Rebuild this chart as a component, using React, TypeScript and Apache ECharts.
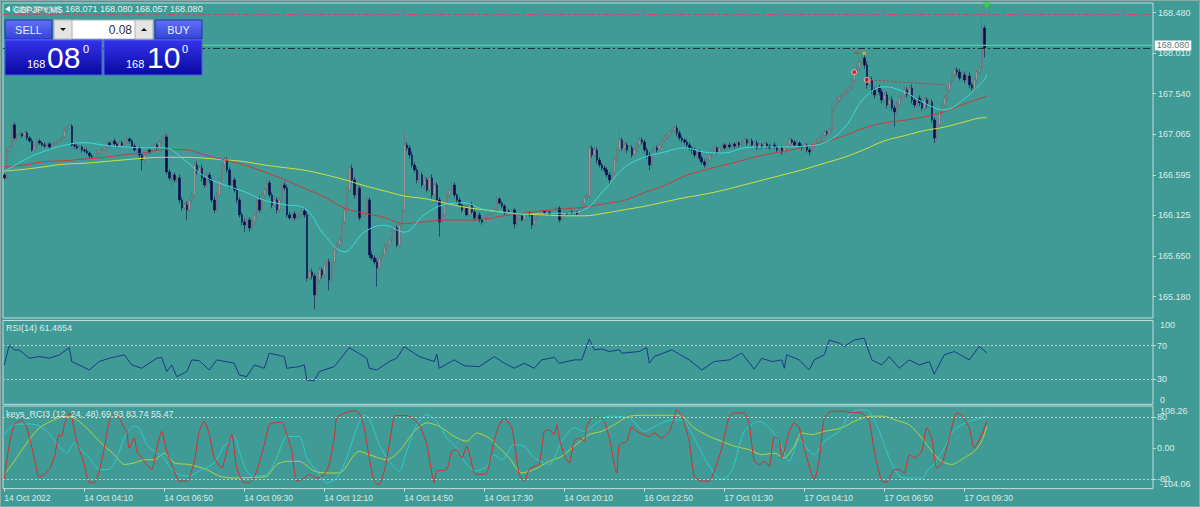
import React, { useEffect, useRef } from "react";
import * as echarts from "echarts";

// ---------- data ----------
const N = 394; // visible M5 bars
const SLOTS = 460; // bar slots across the window (incl. right shift)
const firstOpen = 166.595;

const closes = [
166.560,166.885,166.920,167.176,167.024,167.059,167.071,167.048,
167.083,167.024,166.990,166.885,166.931,166.990,166.966,166.943,
166.931,166.955,166.920,166.955,166.966,166.990,167.001,167.036,
167.106,167.141,167.164,166.943,166.931,166.908,166.920,166.885,
166.873,166.850,166.815,166.804,166.827,166.850,166.885,166.896,
166.920,166.966,166.943,166.990,166.955,166.931,166.966,166.943,
166.966,167.013,166.990,166.931,166.885,166.908,166.827,166.769,
166.827,166.885,166.862,166.908,166.943,166.908,166.978,167.024,
167.036,166.630,166.560,166.595,166.537,166.560,166.304,166.211,
166.246,166.188,166.304,166.362,166.711,166.630,166.676,166.560,
166.478,166.595,166.537,166.304,166.188,166.362,166.537,166.711,
166.769,166.653,166.478,166.537,166.420,166.304,166.130,166.048,
166.013,166.072,165.979,166.048,166.130,166.304,166.188,166.362,
166.420,166.502,166.362,166.246,166.304,166.188,166.304,166.478,
166.444,166.130,166.095,166.141,166.095,166.118,166.130,166.176,
166.130,165.397,165.467,165.420,165.200,165.374,165.490,165.432,
165.548,165.583,165.374,165.583,165.723,165.781,165.839,166.048,
166.188,166.420,166.676,166.537,166.362,166.444,166.095,166.130,
166.165,166.304,165.665,165.630,165.583,165.514,165.630,165.665,
165.746,165.781,165.839,165.955,165.979,165.781,166.013,166.188,
166.943,166.908,166.827,166.711,166.653,166.537,166.595,166.478,
166.537,166.420,166.560,166.362,166.478,166.304,166.048,166.130,
166.246,166.362,166.420,166.478,166.362,166.304,166.246,166.188,
166.211,166.130,166.246,166.165,166.095,166.130,166.072,166.048,
166.095,166.130,166.141,166.165,166.188,166.316,166.269,166.234,
166.153,166.176,166.165,166.188,166.025,166.095,166.118,166.072,
166.141,166.153,166.130,166.013,166.072,166.130,166.141,166.176,
166.153,166.165,166.141,166.165,166.199,166.211,166.072,166.118,
166.153,166.141,166.165,166.153,166.165,166.141,166.188,166.258,
166.327,166.350,166.908,166.827,166.885,166.769,166.711,166.676,
166.653,166.595,166.537,166.630,166.769,166.885,167.001,166.908,
166.943,166.885,166.908,166.827,166.885,166.943,167.001,166.978,
166.885,166.827,166.711,166.885,166.908,166.885,166.943,167.001,
167.024,167.059,167.094,167.117,167.141,167.083,167.024,167.001,
166.978,166.943,166.908,166.885,166.827,166.862,166.792,166.746,
166.711,166.769,166.827,166.885,166.908,166.862,166.908,166.943,
166.908,166.943,166.920,166.955,166.931,166.966,166.943,166.978,
167.001,166.966,166.990,166.943,166.966,166.908,166.943,166.920,
166.955,166.931,166.908,166.943,166.920,166.885,166.908,166.862,
166.908,166.943,167.001,166.978,166.943,166.966,166.931,166.908,
166.943,166.885,166.862,166.943,166.978,167.001,167.024,167.059,
167.094,167.083,167.117,167.350,167.408,167.466,167.501,167.524,
167.547,167.582,167.605,167.698,167.791,167.838,167.908,167.954,
167.873,167.640,167.698,167.582,167.524,167.605,167.559,167.466,
167.524,167.408,167.466,167.373,167.327,167.408,167.489,167.524,
167.582,167.524,167.605,167.466,167.408,167.489,167.431,167.373,
167.466,167.408,167.443,167.234,167.024,167.176,167.327,167.408,
167.489,167.582,167.675,167.757,167.815,167.791,167.722,167.757,
167.698,167.745,167.640,167.605,167.698,167.791,167.838,168.303,
168.071,168.080
];

// wick lengths in hundredths of a yen
const upWick = [
2,3,2,2,3,2,2,2,3,2,2,3,2,2,2,2,3,2,2,2,
2,2,3,2,3,2,3,2,2,3,2,2,2,3,2,2,2,3,2,2,
2,3,2,2,3,2,2,3,2,4,2,2,3,2,2,2,3,2,2,3,
2,2,3,3,5,3,3,2,3,2,4,3,3,4,3,4,3,4,3,4,
3,4,3,3,4,3,4,3,4,3,3,4,3,4,3,3,4,3,3,4,
4,3,4,3,3,4,3,3,4,3,3,4,3,3,3,2,3,2,3,3,
3,4,3,4,3,4,4,3,4,3,4,3,4,3,4,3,4,4,3,4,
3,4,3,4,3,4,3,4,3,4,3,3,4,3,3,4,3,3,4,3,
17,3,3,4,3,3,4,3,4,3,3,4,3,3,3,3,3,4,3,3,
3,2,3,2,3,2,2,3,2,2,3,2,2,2,3,2,2,3,2,2,
2,2,2,1,2,2,2,1,2,2,2,2,1,2,2,2,1,2,2,2,
2,1,2,2,2,1,2,2,2,1,2,2,3,2,3,3,4,3,3,3,
3,3,3,4,3,3,12,3,3,3,4,3,3,3,4,3,3,3,4,3,
3,3,3,3,4,3,3,4,3,3,3,3,2,3,3,2,3,3,3,3,
3,2,3,2,3,2,2,3,2,2,3,2,2,3,2,2,3,2,2,3,
2,3,2,2,3,2,2,2,3,2,2,3,2,2,3,2,2,3,2,2,
3,2,2,3,2,2,3,2,3,2,3,4,3,4,3,3,4,3,4,3,
4,3,4,6,4,4,4,4,3,4,4,3,4,4,3,4,3,4,4,3,
4,3,4,4,3,4,3,4,4,3,4,3,3,4,3,4,3,4,3,4,
4,3,4,3,4,3,4,3,4,3,4,12,3,0
];
const dnWick = [
2,2,3,2,2,3,2,2,2,3,2,2,2,3,2,2,2,2,3,2,
2,3,2,2,2,3,2,2,3,2,2,3,2,2,3,2,2,2,3,2,
3,2,2,3,2,2,3,2,2,2,3,2,2,3,3,12,3,2,2,3,
2,3,2,2,2,3,3,12,3,3,4,3,3,12,3,3,4,3,3,4,
3,3,4,3,4,3,3,4,3,3,4,3,3,4,3,4,8,3,4,3,
3,4,3,3,4,3,3,4,3,4,3,3,3,3,2,3,3,2,3,3,
3,4,3,4,17,3,4,4,3,3,12,3,3,4,3,3,4,3,3,3,
4,3,3,4,3,3,4,3,3,22,3,4,3,4,3,3,4,3,4,3,
3,3,4,3,3,4,3,3,4,3,3,4,3,3,17,3,3,3,3,3,
3,3,2,3,3,2,3,2,3,2,3,3,2,3,2,2,3,2,2,3,
2,2,2,2,5,2,2,2,2,2,2,4,2,2,2,2,2,2,2,2,
2,2,3,2,2,2,2,2,2,2,3,2,2,2,3,3,3,4,3,3,
3,3,6,3,3,3,3,3,3,4,3,3,3,3,3,3,3,4,6,3,
3,3,3,3,3,3,3,3,3,4,3,3,3,3,3,4,3,3,3,3,
3,3,3,2,3,3,2,3,2,3,2,2,3,2,3,2,2,3,2,2,
3,2,3,2,2,3,2,2,2,3,2,3,2,2,3,2,2,3,2,3,
2,3,4,2,3,2,2,3,2,3,3,3,4,3,3,4,3,3,4,3,
4,3,4,3,4,4,3,4,4,3,4,4,3,4,4,3,17,4,3,4,
4,3,4,4,3,4,4,3,4,4,3,3,6,4,3,4,3,4,3,4,
3,4,3,4,4,3,4,3,4,3,4,4,11,1
];

// moving averages [bar index, price]
const maFast = [
[0,166.63],[8,166.77],[16,166.87],[24,166.94],[32,166.97],[40,166.94],[48,166.92],[56,166.91],
[64,166.91],[72,166.77],[80,166.58],[88,166.48],[96,166.40],[104,166.30],[112,166.25],[120,166.21],
[128,165.90],[136,165.70],[144,165.93],[152,166.01],[160,165.93],[168,166.13],[176,166.25],[184,166.27],
[192,166.19],[200,166.16],[208,166.14],[216,166.15],[224,166.15],[232,166.19],[240,166.42],[248,166.68],
[256,166.80],[264,166.86],[272,166.91],[280,166.86],[288,166.85],[296,166.91],[304,166.92],[312,166.92],
[320,166.93],[328,166.97],[336,167.14],[344,167.49],[352,167.62],[360,167.56],[368,167.43],[376,167.35],
[384,167.48],[392,167.70],[393,167.76]
];
const maMid = [
[0,166.69],[8,166.71],[16,166.75],[24,166.76],[32,166.78],[40,166.80],[48,166.83],[56,166.85],
[64,166.89],[72,166.89],[80,166.83],[88,166.77],[96,166.71],[104,166.63],[112,166.54],[120,166.44],
[128,166.34],[136,166.21],[144,166.15],[152,166.10],[160,166.03],[168,166.05],[176,166.07],[184,166.07],
[192,166.08],[200,166.12],[208,166.15],[216,166.18],[224,166.20],[232,166.22],[240,166.26],[248,166.30],
[256,166.39],[264,166.47],[272,166.58],[280,166.65],[288,166.71],[296,166.77],[304,166.83],[312,166.87],
[320,166.92],[328,166.98],[336,167.05],[344,167.14],[352,167.20],[360,167.23],[368,167.27],[376,167.33],
[384,167.42],[392,167.50],[393,167.51]
];
const maSlow = [
[0,166.64],[8,166.66],[16,166.69],[24,166.72],[32,166.73],[40,166.75],[48,166.77],[56,166.79],
[64,166.80],[72,166.80],[80,166.79],[88,166.77],[96,166.75],[104,166.71],[112,166.68],[120,166.65],
[128,166.60],[136,166.54],[144,166.47],[152,166.41],[160,166.35],[168,166.32],[176,166.27],[184,166.22],
[192,166.19],[200,166.16],[208,166.14],[216,166.13],[224,166.12],[232,166.12],[240,166.15],[248,166.19],
[256,166.23],[264,166.28],[272,166.33],[280,166.37],[288,166.42],[296,166.48],[304,166.54],[312,166.60],
[320,166.66],[328,166.73],[336,166.80],[344,166.89],[352,166.99],[360,167.05],[368,167.11],[376,167.15],
[384,167.21],[392,167.26],[393,167.26]
];

// RSI(14) [bar index, value]
const rsi = [
[0,47],[2,70.7],[4,64.8],[6,64.8],[10,55],[14,57],[18,55],[22,58.9],[26,67.7],[27,51],
[34,41],[38,51],[42,55],[45,57],[48,59],[51,47],[55,43],[61,55],[63,56],[65,39],
[67,47],[69,33],[73,39],[75,53],[78,52],[82,41],[85,53],[92,49],[94,35],[97,33],
[100,47],[104,43],[106,61],[112,57],[113,43],[118,45],[120,47],[121,29],[124,28],[126,39],
[132,45],[138,67.7],[145,55],[146,43],[149,41],[154,51],[157,55],[160,68.8],[166,57],[172,51],
[173,60],[174,43],[180,53],[184,46],[190,45],[196,57],[197,55],[200,49],[204,43],[208,49],
[212,43],[215,53],[220,56],[222,49],[228,53],[231,53],[234,78],[236,65],[239,66],[242,63],
[246,65],[247,61],[254,63],[257,67.7],[258,49],[260,57],[267,65],[274,53],[279,41],[284,51],
[290,53],[295,61],[300,42],[303,55],[307,51],[311,53],[312,43],[313,59],[318,53],[322,41],
[324,53],[328,59],[330,76.7],[334,73],[336,69],[340,76.7],[344,79],[347,53],[351,47],[354,57],
[358,43],[362,53],[366,47],[370,51],[372,36],[376,59],[380,63],[386,53],[390,69],[393,61.4854]
];

// keys_RCI3 (12, 24, 48) [bar index, value]
const rci12 = [
[0,-80],[2,9],[4,60],[7,71],[9,52],[12,-25],[14,-75],[16,-68],[18,-55],[20,-25],
[22,35],[23,30],[24,60],[26,90],[27,78],[29,18],[32,-42],[34,-89],[36,-89],[38,-59],
[40,0],[42,69],[44,86],[45,86],[46,78],[48,52],[49,43],[50,0],[52,26],[53,-8],
[54,-17],[57,-42],[59,-55],[61,0],[63,43],[65,-8],[68,-59],[70,-85],[73,-85],[76,-34],
[78,43],[80,69],[82,35],[84,-25],[87,-51],[89,-8],[91,35],[93,-51],[96,-89],[98,-89],
[101,-59],[104,9],[106,60],[108,65],[111,67],[113,35],[115,-8],[117,-85],[120,-77],[122,-68],
[125,-77],[128,-68],[130,-42],[132,26],[133,78],[136,90],[140,96],[142,90],[144,52],[146,-25],
[148,-85],[150,-94],[152,-59],[154,9],[156,82],[158,84],[162,82],[166,60],[169,9],[172,-89],
[173,-59],[177,-55],[179,-8],[181,-4],[183,-25],[185,5],[188,-64],[190,-68],[193,-64],[196,20],
[198,60],[200,77.6],[203,52],[204,17.6],[206,-68],[208,-85],[210,-55],[212,-47],[214,-42],[216,43],
[218,47],[220,35],[221,60],[222,26],[224,-17],[226,-38],[228,17.6],[230,26],[232,17.6],[233,56],
[235,77.6],[238,79],[240,69],[242,26],[245,-64],[246,9],[249,17.6],[251,56],[252,47],[258,30],
[260,39],[263,26],[266,43],[268,77.6],[269,99],[271,82],[274,17.6],[276,-72],[279,-85],[282,-85],
[284,-59],[287,0],[290,82],[292,90.5],[296,90.5],[298,60],[300,-34],[302,-42],[304,-34],[306,-47],
[308,30],[310,22],[311,-25],[314,43],[316,65],[318,52],[320,0],[324,-81],[326,-30],[328,77.6],
[331,94.8],[335,94.8],[338,92],[343,90.5],[346,69],[348,-8],[351,-85],[353,-87],[356,-55],[358,-55],
[360,-64],[362,-17],[364,-25],[367,-8],[369,52],[371,26],[373,-51],[375,-42],[378,26],[381,90.5],
[383,86],[386,52],[388,0],[391,34.8],[393,69.93]
];
const rci24 = [
[0,35],[4,60],[9,62],[13,60],[17,43],[21,13],[25,-13],[28,13],[30,0],[34,-25],
[38,-55],[42,-55],[45,-25],[48,26],[50,47],[52,56],[54,52],[57,9],[60,-8],[64,-25],
[66,-47],[70,-68],[74,-72],[78,-59],[84,-38],[88,5],[92,30],[94,-8],[97,-59],[100,-72],
[105,-68],[109,-25],[113,30],[118,30],[121,-25],[125,-59],[129,-89.5],[133,-77],[137,-25],[141,52],
[144,84],[146,77.6],[150,9],[154,-34],[158,-59],[161,-8],[165,60],[169,86],[173,69],[177,26],
[181,0],[185,-42],[189,-59],[193,-47],[196,-17],[199,-30],[204,9],[208,5],[212,-25],[218,-42],
[223,17.6],[228,52],[232,43],[236,60],[242,82],[250,77.6],[256,43],[263,65],[268,73],[272,69],
[276,26],[282,-47],[287,-81],[290,-68],[292,-42],[296,43],[302,69],[306,52],[310,17.6],[314,-34],
[318,22],[322,-8],[324,-17],[328,17.6],[334,43],[338,86],[342,99],[346,94.8],[350,43],[354,-25],
[358,-72],[362,-77],[367,-77],[370,-51],[372,-42],[376,0],[380,47],[386,69],[391,77.6],[393,83.74]
];
const rci48 = [
[0,-68],[4,-34],[9,13],[14,52],[20,73],[25,82],[29,73],[33,52],[38,17.6],[44,-17],
[48,-42],[52,-38],[56,-30],[60,-30],[64,-13],[68,-38],[74,-42],[81,-55],[86,-72],[92,-77],
[100,-75],[105,-72],[109,-42],[113,-34],[118,-34],[124,-59],[129,-64],[134,-64],[140,-17],[142,-8],
[146,-17],[153,-30],[158,-8],[164,43],[169,65],[174,56],[180,30],[185,17.6],[189,39],[194,26],
[196,13],[202,-25],[207,-64],[212,-55],[218,-34],[223,-21],[228,5],[234,35],[239,43],[244,60],
[250,82],[258,84.5],[266,84.5],[271,82],[276,52],[282,30],[287,17.6],[292,5],[298,-4],[303,-17],
[308,-13],[312,-25],[316,5],[319,39],[323,35],[328,43],[335,52],[340,69],[346,82],[352,82],
[356,73],[362,60],[367,26],[371,-8],[375,-34],[379,-42],[384,-25],[388,-8],[391,17.6],[393,55.47]
];

// trade / history markers on the price chart
const tradeLine = [[345, 167.70], [377, 167.64]];
const tradeDots = [[345, 167.70], [340, 167.79]];
const tradeDash = [[340, 168.01], [342, 168.01]];
const tradeMark = [[344, 168.01]];
const signalArrow = [[393, 168.565]];

// horizontal levels
const bidPrice = 168.08;
const bidLine = 168.1;
const askLine = 168.066;
const alertLevel = 168.455;

// axis ticks and labels
const timeLabels = [
  "14 Oct 2022", "14 Oct 04:10", "14 Oct 06:50", "14 Oct 09:30", "14 Oct 12:10",
  "14 Oct 14:50", "14 Oct 17:30", "14 Oct 20:10", "16 Oct 22:50", "17 Oct 01:30",
  "17 Oct 04:10", "17 Oct 06:50", "17 Oct 09:30",
];
const LABEL_STEP = 32;
const priceTicks = [168.48, 168.01, 167.54, 167.065, 166.595, 166.125, 165.65, 165.18];
const PRICE_MIN = 164.932;
const PRICE_MAX = 168.593;
const rsiLevels = [70, 30];
const rsiEdges = [100, 0];
const rciLevels = [80, 0, -80];
const rciMarks = [80, -80];
const RCI_MIN = -104.06;
const RCI_MAX = 108.26;

// ---------- styling ----------
const BG = "#409b96";
const FRAME = "#c2dcda";
const TXT = "#dcecea";
const FONT = '"Liberation Sans", Arial, sans-serif';

export default function App() {
  const ref = useRef<HTMLDivElement>(null);

  useEffect(() => {
    document.body.style.margin = "0";
    if (!ref.current) return;
    const chart = echarts.init(ref.current, undefined, { renderer: "svg" });

    const cats = Array.from({ length: SLOTS }, (_, i) => String(i));
    const candles = closes.map((c, i) => {
      const o = i === 0 ? firstOpen : closes[i - 1];
      const hi = Math.max(o, c) + upWick[i] / 100;
      const lo = Math.min(o, c) - dnWick[i] / 100;
      return [o, c, lo, hi];
    });
    const bidSeries = [[0, bidLine], [SLOTS - 1, bidLine]];

    const lbl = { color: TXT, fontSize: 9, fontFamily: FONT };
    const tick = (vals: number[]) => ({
      show: true, length: 3, customValues: vals, lineStyle: { color: FRAME },
    });
    const yBase = (grid: number, min: number, max: number) => ({
      type: "value", gridIndex: grid, min, max, position: "right",
      axisLine: { show: false }, splitLine: { show: false },
    });
    const xAxis = [0, 1, 2].map((g) => ({
      type: "category", gridIndex: g, data: cats, boundaryGap: true, position: "bottom",
      axisLine: { show: false, onZero: false },
      splitLine: { show: false },
      axisTick: g === 2 ? {
        show: true, alignWithLabel: true, length: 3, lineStyle: { color: FRAME },
        interval: (idx: number) => idx % LABEL_STEP === 0 && idx < N,
      } : { show: false },
      axisLabel: g === 2 ? {
        show: true, color: TXT, fontSize: 8.5, fontFamily: FONT, align: "left", margin: 5,
        interval: (idx: number) => idx % LABEL_STEP === 0 && idx < N,
        formatter: (v: string) => timeLabels[Number(v) / LABEL_STEP] || "",
      } : { show: false },
    }));

    const dotted = { color: "#b4d2d0", type: [2, 2], width: 1 };

    const option: any = {
      animation: false,
      backgroundColor: BG,
      textStyle: { fontFamily: FONT },
      grid: [
        { left: 3, top: 3, width: 1150, height: 315, show: true, borderColor: FRAME, borderWidth: 1, backgroundColor: "transparent" },
        { left: 3, top: 320.5, width: 1150, height: 83.8, show: true, borderColor: FRAME, borderWidth: 1, backgroundColor: "transparent" },
        { left: 3, top: 406, width: 1150, height: 82.6, show: true, borderColor: FRAME, borderWidth: 1, backgroundColor: "transparent" },
      ],
      xAxis,
      yAxis: [
        { ...yBase(0, PRICE_MIN, PRICE_MAX), axisTick: tick(priceTicks),
          axisLabel: { ...lbl, margin: 5, customValues: priceTicks, formatter: (v: number) => v.toFixed(3) } },
        { ...yBase(1, 0, 100), axisTick: tick(rsiLevels),
          axisLabel: { ...lbl, margin: 4, customValues: rsiLevels, formatter: (v: number) => String(v) } },
        { ...yBase(1, 0, 100), axisTick: { show: false },
          axisLabel: { ...lbl, margin: 7, customValues: [rsiEdges[0]], verticalAlign: "top", formatter: (v: number) => String(v) } },
        { ...yBase(1, 0, 100), axisTick: { show: false },
          axisLabel: { ...lbl, margin: 7, customValues: [rsiEdges[1]], verticalAlign: "bottom", formatter: (v: number) => String(v) } },
        { ...yBase(2, RCI_MIN, RCI_MAX), axisTick: tick(rciLevels),
          axisLabel: { ...lbl, margin: 4, customValues: rciLevels, formatter: (v: number) => (v === 0 ? "0.00" : String(v)) } },
        { ...yBase(2, RCI_MIN, RCI_MAX), axisTick: { show: false },
          axisLabel: { ...lbl, margin: 7, customValues: [RCI_MAX], verticalAlign: "top", formatter: (v: number) => v.toFixed(2) } },
        { ...yBase(2, RCI_MIN, RCI_MAX), axisTick: { show: false },
          axisLabel: { ...lbl, margin: 7, customValues: [RCI_MIN], verticalAlign: "bottom", formatter: (v: number) => v.toFixed(2) } },
      ],
      series: [
        {
          type: "candlestick", xAxisIndex: 0, yAxisIndex: 0, data: candles, barWidth: 2, z: 2,
          itemStyle: { color: "#9c9c9c", color0: "#0c0c4a", borderColor: "#6a6a74", borderColor0: "#101050", borderWidth: 0.6 },
          markLine: {
            silent: true, symbol: ["none", "none"], animation: false,
            data: [
              { yAxis: alertLevel, lineStyle: { color: "#c05050", type: [7, 3, 2, 3], width: 1, opacity: 1 }, label: { show: false } },
              { yAxis: askLine, lineStyle: { color: "#1c3434", type: [7, 3, 2, 3], width: 1, opacity: 1 }, label: { show: false } },
            ],
          },
        },
        { type: "line", xAxisIndex: 0, yAxisIndex: 0, data: maSlow, smooth: 0.4, showSymbol: false, z: 3, lineStyle: { color: "#d2de3c", width: 1 } },
        { type: "line", xAxisIndex: 0, yAxisIndex: 0, data: maMid, smooth: 0.4, showSymbol: false, z: 3, lineStyle: { color: "#cc3a3a", width: 1 } },
        { type: "line", xAxisIndex: 0, yAxisIndex: 0, data: maFast, smooth: 0.4, showSymbol: false, z: 3, lineStyle: { color: "#3cdada", width: 1 } },
        {
          type: "line", xAxisIndex: 0, yAxisIndex: 0, data: bidSeries, showSymbol: false, z: 6, silent: true,
          lineStyle: { color: "#4ee04e", width: 1.3 },
          endLabel: { show: true, formatter: bidPrice.toFixed(3), distance: 3, color: "#5c7c7a", backgroundColor: "#ffffff", padding: [1, 2, 0, 2], fontSize: 9, fontFamily: FONT },
        },
        { type: "line", xAxisIndex: 0, yAxisIndex: 0, data: tradeLine, showSymbol: false, z: 4, lineStyle: { color: "#d23030", width: 1, type: [2, 2] } },
        { type: "line", xAxisIndex: 0, yAxisIndex: 0, data: tradeDash, showSymbol: false, z: 4, lineStyle: { color: "#d23030", width: 1.2 } },
        { type: "scatter", xAxisIndex: 0, yAxisIndex: 0, data: tradeDots, symbolSize: 5, z: 5, itemStyle: { color: "#e01818", borderColor: "#ffd0d0", borderWidth: 1 } },
        { type: "scatter", xAxisIndex: 0, yAxisIndex: 0, data: tradeMark, symbolSize: 4, z: 5, itemStyle: { color: "#f0a020" } },
        { type: "scatter", xAxisIndex: 0, yAxisIndex: 0, data: signalArrow, symbol: "triangle", symbolRotate: 180, symbolSize: [9, 7], z: 6, itemStyle: { color: "#3cd23c" } },
        {
          type: "line", xAxisIndex: 1, yAxisIndex: 1, data: rsi, showSymbol: false, z: 3, lineStyle: { color: "#1b3a8a", width: 1 },
          markLine: { silent: true, symbol: ["none", "none"], label: { show: false }, lineStyle: dotted, data: rsiLevels.map((v) => ({ yAxis: v })) },
        },
        {
          type: "line", xAxisIndex: 2, yAxisIndex: 4, data: rci48, smooth: 0.25, showSymbol: false, z: 3, lineStyle: { color: "#b8d23e", width: 1 },
          markLine: { silent: true, symbol: ["none", "none"], label: { show: false }, lineStyle: dotted, data: rciMarks.map((v) => ({ yAxis: v })) },
        },
        { type: "line", xAxisIndex: 2, yAxisIndex: 4, data: rci24, smooth: 0.25, showSymbol: false, z: 3, lineStyle: { color: "#2ccccc", width: 1 } },
        { type: "line", xAxisIndex: 2, yAxisIndex: 4, data: rci12, smooth: 0.2, showSymbol: false, z: 4, lineStyle: { color: "#d82c2c", width: 1 } },
      ],
      graphic: [
        { type: "rect", z: 1, silent: true, shape: { x: 0.5, y: 0.5, width: 1199, height: 506 }, style: { fill: "none", stroke: "#8fa9a7", lineWidth: 1 } },
        // header
        { type: "polygon", z: 100, shape: { points: [[5, 9], [10, 6], [10, 12]] }, style: { fill: "#e6f2f0" } },
        { type: "text", z: 100, x: 12, y: 9, style: { text: "GBPJPY,M5", fill: "#d6e8e6", font: `9px ${FONT}`, verticalAlign: "middle", opacity: 0.7 } },
        { type: "text", z: 100, x: 13.5, y: 9.5, style: { text: "GBPJPY,M5", fill: "#e6f2f0", font: `9px ${FONT}`, verticalAlign: "middle" } },
        { type: "text", z: 100, x: 65, y: 9, style: { text: "168.071 168.080 168.057 168.080", fill: "#e6f2f0", font: `9px ${FONT}`, verticalAlign: "middle" } },
        // one click trading panel
        { type: "rect", z: 100, shape: { x: 5, y: 20, width: 47, height: 19 }, style: { fill: new echarts.graphic.LinearGradient(0, 0, 0, 1, [{ offset: 0, color: "#6070f4" }, { offset: 1, color: "#3444dc" }]), stroke: "#2630b0", lineWidth: 1 } },
        { type: "text", z: 101, x: 28.5, y: 30, style: { text: "SELL", fill: "#e8ecff", font: `11px ${FONT}`, align: "center", verticalAlign: "middle" } },
        { type: "rect", z: 100, shape: { x: 54, y: 20, width: 99, height: 19 }, style: { fill: "#ffffff", stroke: "#a8b4b4", lineWidth: 1 } },
        { type: "rect", z: 101, shape: { x: 54, y: 20, width: 18, height: 19 }, style: { fill: "#e4e4e4", stroke: "#b0b0b0", lineWidth: 1 } },
        { type: "polygon", z: 102, shape: { points: [[60, 28], [66, 28], [63, 31]] }, style: { fill: "#101010" } },
        { type: "rect", z: 101, shape: { x: 135, y: 20, width: 18, height: 19 }, style: { fill: "#e4e4e4", stroke: "#b0b0b0", lineWidth: 1 } },
        { type: "polygon", z: 102, shape: { points: [[141, 31], [147, 31], [144, 28]] }, style: { fill: "#101010" } },
        { type: "text", z: 102, x: 132, y: 30, style: { text: "0.08", fill: "#303030", font: `12px ${FONT}`, align: "right", verticalAlign: "middle" } },
        { type: "rect", z: 100, shape: { x: 155, y: 20, width: 47, height: 19 }, style: { fill: new echarts.graphic.LinearGradient(0, 0, 0, 1, [{ offset: 0, color: "#6070f4" }, { offset: 1, color: "#3444dc" }]), stroke: "#2630b0", lineWidth: 1 } },
        { type: "text", z: 101, x: 178.5, y: 30, style: { text: "BUY", fill: "#e8ecff", font: `11px ${FONT}`, align: "center", verticalAlign: "middle" } },
        { type: "rect", z: 100, shape: { x: 5, y: 40, width: 97, height: 35 }, style: { fill: new echarts.graphic.LinearGradient(0, 0, 0, 1, [{ offset: 0, color: "#3434ea" }, { offset: 1, color: "#0808a2" }]), stroke: "#4a5af0", lineWidth: 1 } },
        { type: "rect", z: 100, shape: { x: 104, y: 40, width: 98, height: 35 }, style: { fill: new echarts.graphic.LinearGradient(0, 0, 0, 1, [{ offset: 0, color: "#3434ea" }, { offset: 1, color: "#0808a2" }]), stroke: "#4a5af0", lineWidth: 1 } },
        { type: "text", z: 101, x: 27, y: 64, style: { text: "168", fill: "#ffffff", font: `11px ${FONT}`, verticalAlign: "middle" } },
        { type: "text", z: 101, x: 47, y: 57, style: { text: "08", fill: "#ffffff", font: `30px ${FONT}`, verticalAlign: "middle" } },
        { type: "text", z: 101, x: 83, y: 49, style: { text: "0", fill: "#ffffff", font: `11px ${FONT}`, verticalAlign: "middle" } },
        { type: "text", z: 101, x: 126, y: 64, style: { text: "168", fill: "#ffffff", font: `11px ${FONT}`, verticalAlign: "middle" } },
        { type: "text", z: 101, x: 147, y: 57, style: { text: "10", fill: "#ffffff", font: `30px ${FONT}`, verticalAlign: "middle" } },
        { type: "text", z: 101, x: 182, y: 49, style: { text: "0", fill: "#ffffff", font: `11px ${FONT}`, verticalAlign: "middle" } },
        // indicator titles
        { type: "text", z: 100, x: 6, y: 327.5, style: { text: "RSI(14) 61.4854", fill: TXT, font: `9px ${FONT}`, verticalAlign: "middle" } },
        { type: "text", z: 100, x: 6, y: 414, style: { text: "keys_RCI3 (12, 24, 48) 69.93 83.74 55.47", fill: TXT, font: `9px ${FONT}`, verticalAlign: "middle" } },
      ],
    };

    chart.setOption(option);
    return () => chart.dispose();
  }, []);

  return <div ref={ref} style={{ width: 1200, height: 507 }} />;
}
